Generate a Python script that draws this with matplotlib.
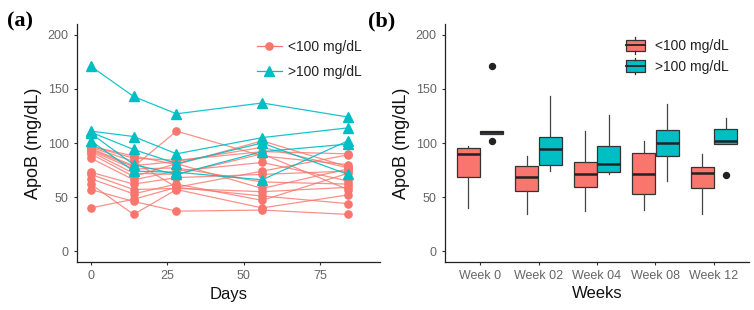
import matplotlib
matplotlib.use("Agg")
import matplotlib.pyplot as plt
from matplotlib.lines import Line2D
from matplotlib.patches import Rectangle, Patch
from matplotlib.legend_handler import HandlerBase

plt.rcParams["font.family"] = ["Liberation Sans", "DejaVu Sans"]

RED = "#F8766D"
CYAN = "#00BFC4"

# ---- data -------------------------------------------------------------
days = [0, 14, 28, 56, 84]

# ApoB per subject, <100 mg/dL group
low_group = [
    [97, 88, 80, 102, 78],
    [97, 86, 84, 92, 90],
    [96, 83, 59, 74, 89],
    [95, 79, 83, 96, 77],
    [94, 78, 111, 88, 80],
    [93, 76, 77, 64, 62],
    [92, 72, 71, 90, 57],
    [90, 69, 81, 58, 76],
    [86, 66, 74, 82, 65],
    [73, 62, 68, 71, 74],
    [71, 57, 58, 55, 59],
    [67, 53, 62, 47, 72],
    [62, 34, 57, 40, 52],
    [57, 46, 37, 38, 34],
    [40, 48, 59, 51, 44],
]

# ApoB per subject, >100 mg/dL group
high_group = [
    [171, 143, 127, 137, 124],
    [111, 106, 90, 105, 114],
    [110, 94, 81, 100, 71],
    [109, 80, 71, 92, 99],
    [102, 74, 73, 66, 102],
]

weeks = ["Week 0", "Week 02", "Week 04", "Week 08", "Week 12"]

# box statistics
low_whislo = [40, 34, 37, 38, 34]
low_q1 = [69, 56, 59, 53, 58]
low_med = [90, 69, 71, 71, 72]
low_q3 = [95, 79, 82, 91, 78]
low_whishi = [97, 88, 111, 102, 90]
low_fliers = [[], [], [], [], []]

high_whislo = [108.5, 74, 71, 65, 99]
high_q1 = [108.5, 80, 73, 88, 99]
high_med = [110, 94, 81, 100, 102]
high_q3 = [111, 106, 97, 112, 113]
high_whishi = [111, 143, 126, 136, 123]
high_fliers = [[171, 102], [], [], [], [70]]


def style_axes(ax):
    for s in ["top", "right"]:
        ax.spines[s].set_visible(False)
    for s in ["left", "bottom"]:
        ax.spines[s].set_color("#222222")
        ax.spines[s].set_linewidth(0.9)
    ax.tick_params(colors="#333333", labelcolor="#666666", labelsize=9,
                   length=2.5, width=0.8)
    ax.set_ylim(-10, 210)
    ax.set_yticks([0, 50, 100, 150, 200])
    ax.set_ylabel("ApoB (mg/dL)", fontsize=13, color="#111111", labelpad=4)


class BoxKey(HandlerBase):
    def create_artists(self, legend, orig_handle, xdescent, ydescent,
                       width, height, fontsize, trans):
        x0, y0 = -xdescent, -ydescent
        fc = orig_handle.get_facecolor()
        box = Rectangle((x0, y0 + 0.15 * height), width, 0.7 * height,
                        facecolor=fc, edgecolor="#333333", lw=0.9,
                        transform=trans)
        xm = x0 + width / 2
        w1 = Line2D([xm, xm], [y0, y0 + 0.15 * height], color="#333333",
                    lw=0.9, transform=trans)
        w2 = Line2D([xm, xm], [y0 + 0.85 * height, y0 + height],
                    color="#333333", lw=0.9, transform=trans)
        med = Line2D([x0, x0 + width], [y0 + 0.5 * height] * 2,
                     color="#222222", lw=1.3, transform=trans)
        return [box, w1, w2, med]


fig = plt.figure(figsize=(7.54, 3.10), dpi=100)

# ---- (a) individual trajectories --------------------------------------
ax1 = fig.add_axes([77 / 754, 48 / 310, 303 / 754, 238 / 310])
for vals in low_group:
    ax1.plot(days, vals, color=RED, lw=0.9, alpha=0.8)
    ax1.plot(days, vals, color=RED, lw=0, marker="o", ms=5.2)
for vals in high_group:
    ax1.plot(days, vals, color=CYAN, lw=0.9, alpha=0.9)
    ax1.plot(days, vals, color=CYAN, lw=0, marker="^", ms=6.5)
style_axes(ax1)
ax1.set_xlim(-4.5, 94.5)
ax1.set_xticks([0, 25, 50, 75])
ax1.set_xlabel("Days", fontsize=12, color="#111111", labelpad=3)

h_a = [Line2D([], [], color=RED, lw=0.9, marker="o", ms=5.2),
       Line2D([], [], color=CYAN, lw=0.9, marker="^", ms=6.5)]
ax1.legend(h_a, ["<100 mg/dL", ">100 mg/dL"], loc="upper left",
           bbox_to_anchor=(0.594, 0.933), frameon=False, fontsize=10,
           handlelength=1.8, handletextpad=0.4, labelspacing=0.8,
           borderpad=0, borderaxespad=0, labelcolor="#222222")

# ---- (b) box plots ----------------------------------------------------
ax2 = fig.add_axes([445 / 754, 48 / 310, 304 / 754, 238 / 310])
pos = list(range(1, len(weeks) + 1))


def stats(lo, q1, med, q3, hi, fl):
    return [dict(whislo=a, q1=b, med=c, q3=d, whishi=e, fliers=f)
            for a, b, c, d, e, f in zip(lo, q1, med, q3, hi, fl)]


for st, off, col in [
    (stats(low_whislo, low_q1, low_med, low_q3, low_whishi, low_fliers), -0.2, RED),
    (stats(high_whislo, high_q1, high_med, high_q3, high_whishi, high_fliers), 0.2, CYAN),
]:
    ax2.bxp(st, positions=[p + off for p in pos], widths=0.39,
            patch_artist=True, showcaps=False,
            boxprops=dict(facecolor=col, edgecolor="#333333", lw=0.9),
            medianprops=dict(color="#222222", lw=1.8),
            whiskerprops=dict(color="#444444", lw=0.9),
            flierprops=dict(marker="o", markerfacecolor="#222222",
                            markeredgecolor="#222222", ms=4.3))
style_axes(ax2)
ax2.set_xlim(0.4, 5.6)
ax2.set_xticks(pos)
ax2.set_xticklabels(weeks)
ax2.set_xlabel("Weeks", fontsize=12, color="#111111", labelpad=3)

h_b = [Patch(facecolor=RED), Patch(facecolor=CYAN)]
ax2.legend(h_b, ["<100 mg/dL", ">100 mg/dL"], loc="upper left",
           bbox_to_anchor=(0.594, 0.945), frameon=False, fontsize=10,
           handlelength=1.4, handleheight=1.45, handletextpad=0.7,
           labelspacing=0.3, borderpad=0, borderaxespad=0,
           labelcolor="#222222", handler_map={Patch: BoxKey()})

# panel tags
fig.text(7 / 754, 1 - 21 / 310, "(a)", fontsize=16, fontweight="bold",
         family="Liberation Serif", va="center", ha="left")
fig.text(368 / 754, 1 - 21 / 310, "(b)", fontsize=16, fontweight="bold",
         family="Liberation Serif", va="center", ha="left")

fig.savefig("out.png", dpi=100)
